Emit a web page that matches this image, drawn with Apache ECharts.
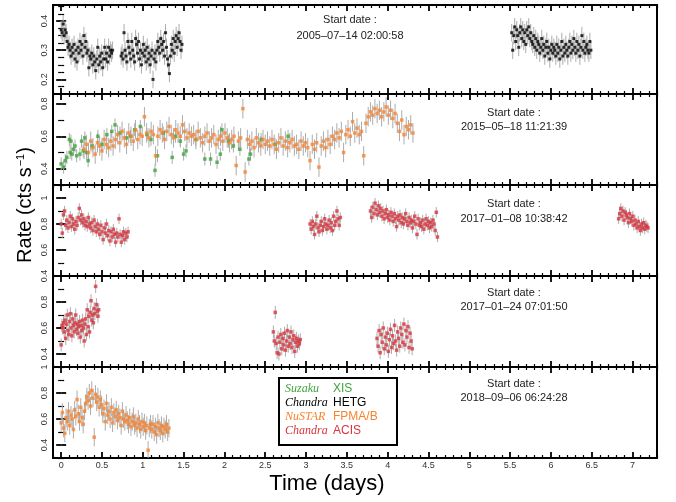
<!DOCTYPE html>
<html><head><meta charset="utf-8">
<script src="https://cdn.jsdelivr.net/npm/echarts@6/dist/echarts.min.js"></script>
<style>html,body{margin:0;padding:0;background:#fff}#c{width:676px;height:502px}</style>
</head><body><div id="c"></div>
<script>
// ---------------- DATA ----------------
// Panel 1: 2005-07-14, Chandra HETG (time spans in days, rates in cts/s)
const hetgASpan = [0.0, 0.63];
const hetgA = [0.37,0.36,0.39,0.35,0.37,0.36,0.33,0.31,0.32,0.30,0.28,0.31,0.29,0.32,0.27,0.30,0.26,0.31,0.29,0.33,0.30,0.32,0.28,0.35,0.31,0.33,0.29,0.30,0.24,0.28,0.27,0.29,0.25,0.28,0.26,0.23,0.27,0.31,0.25,0.28,0.26,0.29,0.24,0.27,0.31,0.27,0.29,0.26,0.31,0.28,0.30,0.29,0.30];
const hetgBSpan = [0.735, 1.48];
const hetgB = [0.28,0.29,0.27,0.36,0.30,0.28,0.26,0.33,0.31,0.29,0.27,0.33,0.30,0.28,0.26,0.34,0.32,0.29,0.33,0.27,0.30,0.25,0.29,0.32,0.28,0.30,0.26,0.31,0.27,0.29,0.25,0.28,0.30,0.20,0.27,0.29,0.26,0.30,0.33,0.31,0.29,0.34,0.32,0.30,0.33,0.28,0.36,0.31,0.27,0.25,0.22,0.28,0.32,0.30,0.34,0.29,0.33,0.35,0.31,0.34,0.36,0.33,0.30,0.32];
const hetgCSpan = [5.52, 6.49];
const hetgC = [0.36,0.30,0.35,0.38,0.33,0.37,0.35,0.31,0.36,0.38,0.34,0.37,0.33,0.36,0.32,0.37,0.35,0.38,0.34,0.36,0.33,0.32,0.35,0.31,0.34,0.30,0.33,0.32,0.29,0.31,0.34,0.30,0.32,0.28,0.31,0.33,0.29,0.31,0.27,0.30,0.32,0.29,0.31,0.30,0.28,0.32,0.29,0.31,0.27,0.30,0.33,0.28,0.31,0.29,0.32,0.30,0.28,0.31,0.33,0.29,0.32,0.30,0.34,0.31,0.29,0.33,0.30,0.32,0.28,0.31,0.35,0.30,0.33,0.29,0.31,0.32,0.30,0.29,0.33,0.30];
const hetgErr = 0.03;

// Panel 2: 2015-05-18, Suzaku XIS (irregular times) + NuSTAR FPMA/B
const suzakuTimes = [0.0,0.03,0.05,0.07,0.10,0.11,0.12,0.13,0.15,0.17,0.19,0.23,0.25,0.27,0.29,0.31,0.33,0.38,0.45,0.50,0.56,0.62,0.66,0.72,0.80,0.85,0.90,0.97,1.05,1.10,1.15,1.18,1.25,1.36,1.40,1.46,1.50,1.53,1.65,1.76,1.83,1.91,1.95,1.97,2.05,2.11,2.19,2.30,2.32,2.45,2.62,2.78];
const suzakuRates = [0.43,0.41,0.45,0.47,0.58,0.50,0.57,0.49,0.52,0.54,0.48,0.49,0.57,0.51,0.59,0.50,0.45,0.54,0.60,0.55,0.61,0.63,0.67,0.62,0.59,0.60,0.64,0.66,0.61,0.58,0.39,0.48,0.62,0.47,0.60,0.57,0.49,0.51,0.58,0.46,0.46,0.44,0.49,0.64,0.57,0.54,0.52,0.46,0.49,0.58,0.55,0.60];
const suzakuErr = 0.04;
const nustar15Span = [0.28, 4.31];
const nustar15 = [0.52,0.55,0.50,0.57,0.53,0.49,0.56,0.54,0.51,0.58,0.55,0.53,0.57,0.54,
 0.58,0.61,0.56,0.63,0.59,0.55,0.62,0.60,0.57,0.64,0.58,0.61,0.60,
 0.72,0.62,0.59,0.63,0.61,0.48,0.60,0.64,0.62,0.58,0.63,0.66,0.61,0.59,0.64,0.62,0.60,0.67,0.63,0.59,0.62,0.60,
 0.61,0.58,0.63,0.59,0.56,0.60,0.62,0.57,0.59,0.61,0.55,0.58,0.60,0.57,0.62,0.59,0.56,0.58,0.60,0.42,0.57,0.59,
 0.77,0.38,0.58,0.55,0.57,0.53,0.59,0.56,0.54,0.58,0.55,
 0.57,0.54,0.58,0.55,0.52,0.56,0.59,0.54,0.57,0.53,0.56,0.58,0.54,0.55,0.52,0.57,0.54,0.56,
 0.53,0.45,0.55,0.52,0.56,0.41,0.54,0.57,0.53,0.58,0.55,
 0.60,0.58,0.62,0.59,0.63,0.50,0.61,0.64,0.60,0.69,0.62,0.65,0.61,
 0.63,0.48,0.68,0.72,0.75,0.73,0.77,0.74,0.76,0.72,0.75,0.78,0.73,0.76,0.71,0.74,
 0.68,0.63,0.70,0.61,0.66,0.64,0.67,0.62];
const nustar15Err = 0.06;

// Panel 3: 2017-01-08, Chandra ACIS
const acis08ASpan = [0.0, 0.82];
const acis08A = [0.80,0.73,0.87,0.90,0.79,0.83,0.77,0.81,0.86,0.78,0.84,0.80,0.76,0.82,0.79,0.85,0.92,0.83,0.87,0.81,0.84,0.79,0.82,0.78,0.85,0.80,0.77,0.81,0.75,0.83,0.78,0.74,0.80,0.76,0.72,0.79,0.74,0.68,0.77,0.73,0.80,0.71,0.75,0.67,0.74,0.70,0.76,0.72,0.66,0.73,0.70,0.84,0.72,0.66,0.71,0.74,0.68,0.73,0.70,0.74];
const acis08BSpan = [3.05, 3.42];
const acis08B = [0.80,0.76,0.82,0.78,0.72,0.80,0.86,0.77,0.74,0.79,0.82,0.75,0.78,0.84,0.80,0.76,0.79,0.83,0.77,0.81,0.75,0.86,0.79,0.82,0.90,0.84,0.79,0.85];
const acis08CSpan = [3.79, 4.61];
const acis08C = [0.90,0.85,0.93,0.88,0.96,0.91,0.87,0.94,0.89,0.92,0.86,0.90,0.84,0.88,0.91,0.85,0.87,0.83,0.89,0.86,0.82,0.88,0.84,0.78,0.86,0.83,0.87,0.81,0.85,0.80,0.84,0.88,0.82,0.79,0.85,0.81,0.83,0.77,0.82,0.86,0.80,0.72,0.84,0.79,0.81,0.78,0.83,0.76,0.80,0.84,0.79,0.82,0.77,0.81,0.78,0.83,0.80,0.75,0.89,0.70];
const acis08DSpan = [6.83, 7.19];
const acis08D = [0.84,0.88,0.92,0.86,0.90,0.83,0.89,0.87,0.85,0.81,0.88,0.84,0.82,0.86,0.79,0.83,0.80,0.77,0.82,0.78,0.75,0.80,0.77,0.81,0.76,0.79,0.78,0.77];
const acis08Err = 0.04;

// Panel 4: 2017-01-24, Chandra ACIS
const acis24ASpan = [0.0, 0.46];
const acis24A = [0.47,0.62,0.60,0.64,0.57,0.66,0.52,0.63,0.70,0.58,0.55,0.65,0.71,0.60,0.54,0.67,0.62,0.57,0.64,0.70,0.59,0.63,0.56,0.61,0.65,0.53,0.62,0.58,0.66,0.60,0.50,0.63,0.67,0.55,0.74,0.61,0.69,0.57,0.72,0.81,0.66,0.70,0.64,0.75,0.71,0.92,0.78,0.73,0.69,0.74];
const acis24BSpan = [2.6, 2.93];
const acis24B = [0.57,0.50,0.72,0.48,0.41,0.53,0.40,0.49,0.55,0.44,0.52,0.47,0.56,0.43,0.50,0.58,0.46,0.53,0.48,0.57,0.45,0.51,0.54,0.42,0.49,0.52,0.46,0.50,0.48,0.51];
const acis24CSpan = [3.87, 4.30];
const acis24C = [0.52,0.46,0.58,0.41,0.55,0.49,0.60,0.44,0.53,0.47,0.56,0.42,0.51,0.59,0.45,0.54,0.48,0.62,0.50,0.43,0.57,0.52,0.46,0.60,0.55,0.49,0.63,0.47,0.58,0.53,0.61,0.45,0.56,0.50,0.44];
const acis24Err = 0.05;

// Panel 5: 2018-09-06, NuSTAR FPMA/B
const nustar18Span = [0.0, 1.32];
const nustar18 = [0.57,0.65,0.53,0.49,0.61,0.58,0.66,0.55,0.63,0.60,0.52,0.67,0.62,0.75,0.64,0.58,0.69,0.61,0.56,0.66,
 0.72,0.77,0.74,0.80,0.70,0.82,0.76,0.46,0.79,0.73,0.77,0.69,0.75,0.71,
 0.64,0.68,0.58,0.72,0.63,0.66,0.60,0.69,0.57,0.65,0.62,0.67,0.59,0.64,0.61,0.55,0.66,0.60,0.58,0.63,
 0.59,0.56,0.61,0.54,0.58,0.62,0.55,0.57,0.53,0.60,0.56,0.52,0.58,0.54,0.57,0.51,0.55,0.36,0.53,0.56,
 0.52,0.56,0.50,0.54,0.48,0.57,0.53,0.51,0.55,0.49,0.54,0.52,0.56,0.50,0.53];
const nustar18Err = 0.07;

const startDates = ['2005\u201307\u201314 02:00:58','2015\u201305\u201318 11:21:39','2017\u201301\u201308 10:38:42','2017\u201301\u201324 07:01:50','2018\u201309\u201306 06:24:28'];

// axis ticks
const xMajorTicks = [0,0.5,1,1.5,2,2.5,3,3.5,4,4.5,5,5.5,6,6.5,7];
const xRange = [-0.1, 7.3];
const yRanges = [[0.15,0.455],[0.3,0.86],[0.4,1.1],[0.3,1.0],[0.3,1.0]];
const yMajorTicks = [[0.2,0.3,0.4],[0.4,0.6,0.8],[0.4,0.6,0.8,1.0],[0.4,0.6,0.8,1.0],[0.4,0.6,0.8,1.0]];
const yMinorTicks = [[0.175,0.225,0.25,0.275,0.325,0.35,0.375,0.425,0.45],[0.3,0.5,0.7],[0.5,0.7,0.9],[0.3,0.5,0.7,0.9],[0.3,0.5,0.7,0.9]];
const yTickLabels = [[0.2,0.3,0.4],[0.4,0.6,0.8],[0.4,0.6,0.8,1],[0.4,0.6,0.8],[0.4,0.6,0.8,1]];

// ---------------- COLOURS / LAYOUT ----------------
const C_GREEN = '#3ea53e', C_BLACK = '#000000', C_ORANGE = '#f7832f', C_RED = '#d8343e', C_ERR = '#acacac';
const gridTops = [5, 94, 185, 276, 367];
const gridHeights = [89, 91, 91, 91, 91];
const FONT = '"Liberation Sans", Arial, Helvetica, sans-serif';

function segData(span, vals, err) {
  const n = vals.length, dt = (span[1] - span[0]) / (n - 1);
  return vals.map((v, i) => [span[0] + i * dt, v, err]);
}
function ptData(ts, vs, err) { return ts.map((t, i) => [t, vs[i], err]); }

const xMinor = [];
for (let k = -1; k <= 73; k++) { if (k % 5 !== 0) xMinor.push(k / 10); }

const grids = [], xAxes = [], yAxes = [], series = [];
for (let g = 0; g < 5; g++) {
  grids.push({ left: 53, width: 604, top: gridTops[g], height: gridHeights[g], show: true,
    borderColor: '#000', borderWidth: 2, backgroundColor: 'transparent' });
  const isBottom = g === 4;
  const mkX = (pos, ticks, len, w, labels) => ({
    gridIndex: g, type: 'value', min: xRange[0], max: xRange[1], position: pos,
    axisLine: { show: false }, splitLine: { show: false },
    axisTick: { show: true, inside: true, length: len, customValues: ticks, lineStyle: { color: '#000', width: w } },
    axisLabel: labels ? { show: true, customValues: xMajorTicks, fontSize: 9, color: '#333', fontFamily: FONT, margin: 3,
      formatter: v => String(v) } : { show: false }
  });
  xAxes.push(mkX('bottom', xMinor, 3, 1.2, false));
  xAxes.push(mkX('bottom', xMajorTicks, 6, 1.8, isBottom));
  xAxes.push(mkX('top', xMinor, 3, 1.2, false));
  xAxes.push(mkX('top', xMajorTicks, 6, 1.8, false));
  const mkY = (pos, ticks, len, w, labels) => ({
    gridIndex: g, type: 'value', min: yRanges[g][0], max: yRanges[g][1], position: pos,
    axisLine: { show: false }, splitLine: { show: false },
    axisTick: { show: true, inside: true, length: len, customValues: ticks, lineStyle: { color: '#000', width: w } },
    axisLabel: labels ? { show: true, customValues: yTickLabels[g], rotate: 90, fontSize: 9, color: '#333', fontFamily: FONT, margin: 4,
      formatter: v => (Math.abs(v - 1) < 1e-9 ? '1' : v.toFixed(1)) } : { show: false }
  });
  yAxes.push(mkY('left', yMinorTicks[g], 3, 1.2, false));
  yAxes.push(mkY('left', yMajorTicks[g], 5, 1.8, true));
  yAxes.push(mkY('right', yMinorTicks[g], 3, 1.2, false));
  yAxes.push(mkY('right', yMajorTicks[g], 5, 1.8, false));
}

function addSet(g, data, color, size) {
  const lo = yRanges[g][0], hi = yRanges[g][1];
  series.push({
    type: 'custom', xAxisIndex: g * 4, yAxisIndex: g * 4, data: data, z: 2, silent: true,
    renderItem: (params, api) => {
      const x = api.value(0), y = api.value(1), e = api.value(2);
      const a = api.coord([x, Math.max(lo, y - e)]), b = api.coord([x, Math.min(hi, y + e)]);
      return { type: 'line', shape: { x1: a[0], y1: a[1], x2: b[0], y2: b[1] }, style: { stroke: C_ERR, lineWidth: 1 } };
    }
  });
  series.push({
    type: 'scatter', xAxisIndex: g * 4, yAxisIndex: g * 4, data: data.map(d => [d[0], d[1]]), z: 3, silent: true,
    symbol: 'rect', symbolSize: size, itemStyle: { color: color }
  });
}

addSet(0, segData(hetgASpan, hetgA, hetgErr), C_BLACK, 3);
addSet(0, segData(hetgBSpan, hetgB, hetgErr), C_BLACK, 3);
addSet(0, segData(hetgCSpan, hetgC, hetgErr), C_BLACK, 3);
addSet(1, ptData(suzakuTimes, suzakuRates, suzakuErr), C_GREEN, 3.5);
addSet(1, segData(nustar15Span, nustar15, nustar15Err), C_ORANGE, 3.5);
addSet(2, segData(acis08ASpan, acis08A, acis08Err), C_RED, 3.5);
addSet(2, segData(acis08BSpan, acis08B, acis08Err), C_RED, 3.5);
addSet(2, segData(acis08CSpan, acis08C, acis08Err), C_RED, 3.5);
addSet(2, segData(acis08DSpan, acis08D, acis08Err), C_RED, 3.5);
addSet(3, segData(acis24ASpan, acis24A, acis24Err), C_RED, 3.5);
addSet(3, segData(acis24BSpan, acis24B, acis24Err), C_RED, 3.5);
addSet(3, segData(acis24CSpan, acis24C, acis24Err), C_RED, 3.5);
addSet(4, segData(nustar18Span, nustar18, nustar18Err), C_ORANGE, 3.5);

// annotations
const graphics = [];
const dateCenters = [350, 514, 514, 514, 514];
const dateOffsets = [[15, 31], [19, 33], [19, 34], [17, 31], [17, 31]];
for (let g = 0; g < 5; g++) {
  graphics.push({ type: 'text', x: dateCenters[g], y: gridTops[g] + dateOffsets[g][0], z: 10,
    style: { text: 'Start date :', font: '11px ' + FONT, fill: '#222', align: 'center', verticalAlign: 'middle' } });
  graphics.push({ type: 'text', x: dateCenters[g], y: gridTops[g] + dateOffsets[g][1], z: 10,
    style: { text: startDates[g], font: '11px ' + FONT, fill: '#222', align: 'center', verticalAlign: 'middle' } });
}
graphics.push({ type: 'text', x: 25, y: 205, rotation: Math.PI / 2, z: 10,
  style: { text: 'Rate (cts s{sup|\u22121})', font: '20px ' + FONT, fill: '#000', align: 'center', verticalAlign: 'middle',
    rich: { sup: { fontSize: 11, fontFamily: FONT, padding: [0, 0, 9, 1], fill: '#000' } } } });
graphics.push({ type: 'text', x: 327, y: 484, z: 10,
  style: { text: 'Time (days)', font: '22px ' + FONT, fill: '#000', align: 'center', verticalAlign: 'middle' } });

// legend box
const legendRows = [['Suzaku', 'XIS', C_GREEN], ['Chandra', 'HETG', C_BLACK], ['NuSTAR', 'FPMA/B', C_ORANGE], ['Chandra', 'ACIS', C_RED]];
graphics.push({ type: 'rect', shape: { x: 279, y: 378, width: 118, height: 67 }, z: 10,
  style: { fill: '#fff', stroke: '#000', lineWidth: 2 } });
legendRows.forEach((r, i) => {
  graphics.push({ type: 'text', x: 285, y: 389 + i * 14, z: 11,
    style: { text: r[0], font: 'italic 12px "Liberation Serif", "Times New Roman", serif', fill: r[2], align: 'left', verticalAlign: 'middle' } });
  graphics.push({ type: 'text', x: 333, y: 389 + i * 14, z: 11,
    style: { text: r[1], font: '12px ' + FONT, fill: r[2], align: 'left', verticalAlign: 'middle' } });
});

const chart = echarts.init(document.getElementById('c'), null, { renderer: 'canvas' });
chart.setOption({
  animation: false, backgroundColor: '#fff',
  grid: grids, xAxis: xAxes, yAxis: yAxes, series: series, graphic: graphics
});
</script>
</body></html>
